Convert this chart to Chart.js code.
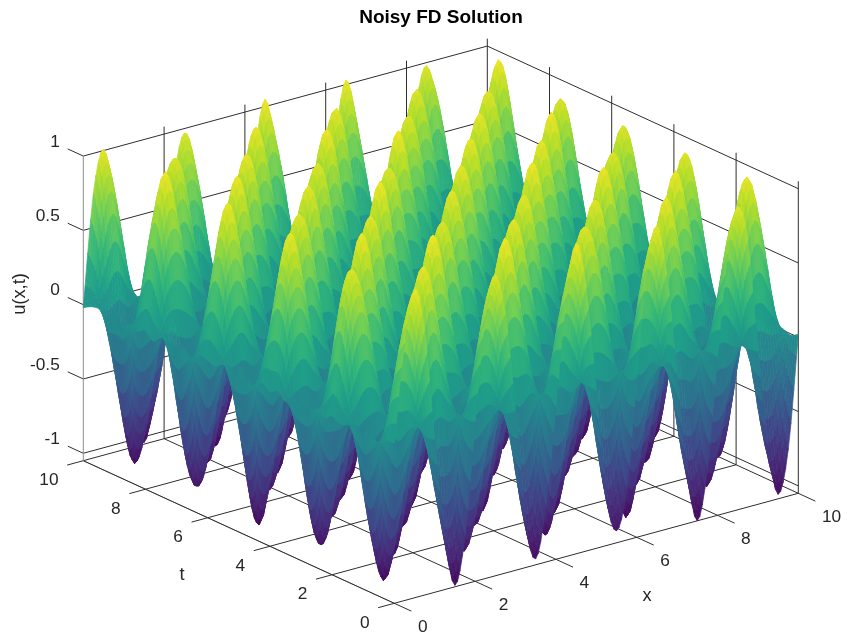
<!DOCTYPE html>
<html>
<head>
<meta charset="utf-8">
<style>
  html, body { margin: 0; padding: 0; background: #fff; }
  #wrap { width: 847px; height: 639px; }
</style>
<script src="https://cdn.jsdelivr.net/npm/chart.js@4"></script>
</head>
<body>
<div id="wrap"><canvas id="myChart" width="847" height="639"></canvas></div>
<script>
// grid of the surface
const xValues = [0,0.25,0.5,0.75,1,1.25,1.5,1.75,2,2.25,2.5,2.75,3,3.25,3.5,3.75,4,4.25,4.5,4.75,5,5.25,5.5,5.75,6,6.25,6.5,6.75,7,7.25,7.5,7.75,8,8.25,8.5,8.75,9,9.25,9.5,9.75,10];
const tValues = [0,0.25,0.5,0.75,1,1.25,1.5,1.75,2,2.25,2.5,2.75,3,3.25,3.5,3.75,4,4.25,4.5,4.75,5,5.25,5.5,5.75,6,6.25,6.5,6.75,7,7.25,7.5,7.75,8,8.25,8.5,8.75,9,9.25,9.5,9.75,10];
const xTicks = [0,2,4,6,8,10];
const tTicks = [0,2,4,6,8,10];
const zTicks = [-1,-0.5,0,0.5,1];
const zTickLabels = ['-1','-0.5','0','0.5','1'];

// u(x,t) in hundredths, one row per t
const uRows = [
[3,68,103,74,-2,-69,-104,-73,2,72,98,70,3,-74,-101,-68,-3,69,104,73,1,-72,-97,-71,2,74,101,67,-3,-70,-105,-72,1,69,99,75,-2,-67,-102,-74,2],
[2,52,74,47,-3,-48,-69,-53,1,48,73,52,-2,-52,-74,-47,3,51,68,49,2,-47,-72,-51,-2,53,70,46,3,-50,-67,-54,2,47,75,50,-3,-53,-70,-48,-1],
[-2,3,-4,2,1,-3,4,-1,2,-3,1,4,-2,2,-4,3,1,-2,3,-3,2,4,-1,-3,2,1,-4,3,-2,2,4,-3,1,-2,3,-1,-3,4,2,-2,1],
[1,-47,-73,-52,3,49,74,46,-2,-53,-68,-48,2,52,71,50,-1,-48,-75,-51,3,46,69,53,-3,-50,-72,-47,1,53,73,48,2,-52,-67,-50,-2,47,75,52,1],
[-2,-69,-103,-73,2,72,101,68,3,-74,-98,-70,-1,69,105,74,-3,-71,-102,-67,2,73,98,72,1,-68,-105,-74,-2,70,103,69,3,-73,-99,-71,1,74,102,67,-2],
[3,-52,-69,-48,-2,51,75,47,1,-46,-73,-53,2,48,67,52,-3,-51,-70,-49,1,53,74,46,2,-48,-68,-52,-1,47,72,53,3,-50,-74,-47,-2,52,69,49,2],
[1,-3,2,4,-2,3,-1,-4,2,3,-2,1,4,-3,-1,2,-4,3,1,-2,4,-1,2,-3,3,-4,1,2,-2,-3,4,1,-2,3,-1,2,-4,-2,3,1,-2],
[-1,47,70,53,2,-51,-74,-47,-3,52,68,48,1,-49,-72,-53,2,46,75,51,-2,-52,-69,-48,3,50,73,47,-1,-53,-70,-51,2,48,67,52,1,-47,-74,-50,3],
[2,74,97,69,-3,-72,-103,-68,1,70,105,73,2,-69,-98,-74,-2,73,101,67,3,-71,-104,-70,-1,68,99,75,2,-73,-101,-69,3,72,104,70,-2,-68,-97,-73,1],
[-2,49,73,52,1,-53,-68,-47,2,51,75,46,-3,-48,-71,-52,1,53,69,50,3,-46,-74,-49,-2,47,72,53,1,-51,-75,-48,3,52,67,49,-1,-50,-73,-53,2],
[2,-2,3,-3,1,4,-4,2,-1,3,-2,-3,4,1,-2,3,2,-4,1,3,-3,-1,4,2,-2,-3,1,4,-1,3,-2,2,-4,1,3,-3,2,-1,4,-2,-1],
[-3,-51,-74,-47,2,52,69,49,1,-48,-72,-53,-2,47,75,51,3,-52,-67,-46,-1,50,73,48,2,-53,-70,-49,1,46,68,52,-3,-49,-75,-51,2,53,71,47,-1],
[1,-73,-98,-68,-2,70,104,73,2,-69,-101,-74,3,72,97,67,-1,-74,-105,-70,2,68,100,75,-3,-72,-97,-69,1,73,104,71,2,-67,-102,-75,-2,69,99,72,3],
[-1,-48,-72,-53,3,47,70,52,-2,-51,-75,-46,1,53,68,49,2,-47,-73,-52,-3,50,71,48,1,-53,-69,-47,3,49,74,51,-1,-46,-70,-53,2,52,68,48,-2],
[-3,1,4,-2,2,-1,-4,3,1,-2,2,-3,-1,4,3,-2,1,-3,2,4,-4,1,-2,3,-1,2,4,-3,1,-2,-4,3,2,-1,-3,4,1,-2,3,-3,2],
[2,53,68,48,-1,-47,-72,-52,2,50,74,47,3,-53,-69,-49,-2,47,71,54,1,-51,-75,-46,2,52,68,49,-3,-48,-73,-52,1,46,75,51,2,-53,-70,-47,-2],
[-1,70,102,74,3,-68,-97,-72,-2,73,99,69,1,-75,-104,-70,2,67,101,72,-3,-73,-98,-68,1,71,105,74,2,-69,-100,-73,-2,74,97,68,3,-70,-103,-72,1],
[3,47,71,53,-2,-52,-73,-49,1,51,68,46,2,-48,-75,-53,-1,49,72,52,3,-47,-69,-51,-2,54,74,48,1,-52,-71,-46,2,50,67,53,-3,-49,-74,-48,2],
[-2,4,-1,3,-3,2,1,-4,3,-2,4,1,-3,-2,2,3,-1,-4,2,1,3,-3,4,-2,1,-1,3,2,-4,-2,1,4,-3,2,-1,3,-2,1,-4,3,1],
[1,-53,-69,-47,2,49,73,52,-3,-46,-70,-52,1,53,75,48,2,-50,-68,-51,-1,47,72,53,3,-49,-74,-46,-2,52,69,50,1,-53,-72,-48,3,47,70,51,-1],
[2,-72,-104,-68,-3,74,98,70,1,-67,-102,-73,2,71,105,68,-2,-74,-99,-70,3,69,101,74,-1,-72,-97,-68,2,73,103,70,1,-69,-105,-74,-3,68,98,73,-2],
[-2,-47,-74,-52,1,53,68,46,3,-51,-72,-48,-1,49,71,53,2,-46,-75,-50,1,52,70,47,-3,-53,-67,-49,2,48,73,52,-1,-51,-74,-47,3,50,68,53,1],
[3,-1,2,-4,1,-2,3,4,-3,1,-2,3,4,-1,-3,2,1,3,-4,-2,2,-3,1,4,-1,3,-2,-4,2,1,-3,4,-1,-2,3,2,-4,1,3,-1,-2],
[-1,51,68,47,3,-49,-73,-53,2,46,75,52,-2,-53,-70,-47,1,50,74,48,2,-52,-67,-46,-3,53,71,49,1,-47,-75,-51,2,52,69,46,-1,-48,-72,-53,3],
[1,69,103,73,-2,-74,-98,-70,3,72,100,67,-1,-68,-105,-73,2,74,97,70,1,-71,-103,-69,-3,67,102,74,2,-72,-99,-68,1,70,105,73,-2,-75,-97,-69,2],
[2,46,72,53,1,-50,-75,-48,-2,53,69,47,3,-51,-71,-52,2,48,74,50,-1,-53,-68,-47,1,49,73,51,3,-46,-72,-53,-2,51,67,48,2,-49,-75,-50,-3],
[-3,2,-1,4,-2,1,3,-3,-1,4,2,-4,1,3,-2,-1,3,2,-3,-4,1,4,-2,1,3,-3,-1,2,4,-2,3,-1,-4,1,2,3,-2,-3,1,4,-1],
[2,-49,-75,-51,-1,46,70,53,1,-53,-68,-47,3,52,73,48,-2,-47,-71,-52,1,53,68,49,2,-50,-74,-46,-1,47,72,53,3,-48,-69,-52,1,51,74,47,-2],
[-1,-74,-97,-70,3,68,104,72,-2,-71,-103,-67,1,73,98,70,2,-69,-100,-74,-1,72,105,68,3,-70,-98,-73,-2,69,102,74,1,-73,-105,-68,2,71,97,70,-3],
[1,-50,-68,-53,-2,48,74,47,3,-46,-73,-51,2,52,69,49,-1,-53,-72,-48,3,47,75,52,-2,-51,-67,-46,1,53,71,50,2,-47,-74,-53,-1,48,70,46,2],
[2,3,-2,-4,1,-3,4,2,-1,3,-4,1,2,-2,-3,4,-1,1,3,-2,4,-3,-1,2,1,-4,3,-2,-3,1,2,4,-2,-1,3,-3,1,4,-2,2,-1],
[-3,48,69,52,2,-53,-72,-46,1,49,74,51,-2,-47,-68,-53,3,52,70,46,-1,-50,-75,-48,2,53,67,47,1,-52,-73,-49,-1,46,71,53,2,-51,-69,-47,1],
[2,72,105,67,-1,-70,-99,-74,3,68,102,73,1,-73,-97,-69,-2,74,104,71,2,-68,-101,-72,-3,70,98,75,1,-74,-103,-67,2,72,100,69,-1,-71,-105,-73,3],
[-1,53,70,47,2,-46,-74,-52,-3,48,73,50,1,-53,-67,-48,2,51,75,46,3,-49,-71,-53,1,47,69,52,-2,-50,-72,-47,3,53,74,49,1,-52,-68,-46,-2],
[1,-4,3,2,-2,4,-1,-3,2,1,-3,4,-1,2,3,-4,-2,1,4,-3,2,-1,-3,3,4,-2,1,-3,2,-1,3,-4,1,2,-2,4,-3,1,-1,3,2],
[-2,-52,-67,-48,1,53,72,47,2,-50,-75,-46,-1,47,69,53,3,-48,-73,-51,1,52,70,46,-2,-47,-74,-53,3,49,68,51,1,-53,-71,-46,-3,50,75,48,2],
[3,-68,-101,-74,2,70,97,73,-1,-72,-104,-69,1,67,103,74,-2,-70,-98,-73,3,75,101,68,1,-69,-105,-71,-2,72,99,67,3,-74,-100,-70,1,69,104,73,-1],
[-2,-47,-70,-53,-1,51,73,48,2,-52,-69,-47,3,46,74,53,-1,-50,-68,-49,2,53,72,47,-3,-46,-75,-52,1,49,70,48,2,-53,-73,-51,-2,47,67,52,1],
[2,-1,4,-3,3,-2,-4,1,2,-3,4,-1,-2,3,1,-4,2,3,-1,-2,4,1,-3,-1,2,3,-4,1,-2,4,-3,2,1,-1,-4,3,2,-3,1,4,-2],
[1,50,75,46,-3,-47,-69,-52,2,53,68,49,-1,-51,-73,-48,3,47,72,53,1,-49,-75,-46,-2,52,70,48,3,-53,-67,-50,1,46,74,52,-1,-48,-71,-53,2],
[-2,73,101,68,2,-70,-104,-73,1,69,97,74,-3,-72,-102,-67,2,71,105,70,-1,-74,-98,-69,3,68,103,73,1,-73,-100,-70,-2,74,98,67,2,-68,-105,-72,3]
];
const colormap = ['#440154','#482878','#3e4989','#31688e','#26828e','#1f9e89','#35b779','#6ece58','#b5de2b','#fde725'];

// projection of the plot box: page position of (0,0,-1.05) and the step per data unit
const origin = [394.3, 603.3];
const stepX = [40.4, -11.0];
const stepT = [-31.1, -14.26];
const stepZ = 148.6;
const zLow = -1.05;
const zHigh = 1.05;
const colorLow = -1.08;
const colorHigh = 1.08;
const titleBottom = 34.2;

function project(x, t, z) {
    return {
        x: origin[0] + x * stepX[0] + t * stepT[0],
        y: origin[1] + x * stepX[1] + t * stepT[1] - (z - zLow) * stepZ
    };
}

const stops = colormap.map(c => [1, 3, 5].map(n => parseInt(c.substr(n, 2), 16)));
function colorFor(u) {
    let f = (u - colorLow) / (colorHigh - colorLow);
    f = Math.max(0, Math.min(0.9999, f)) * (stops.length - 1);
    const n = Math.floor(f), w = f - n;
    const a = stops[n], b = stops[n + 1];
    return 'rgb(' + [0, 1, 2].map(k => Math.round(a[k] + (b[k] - a[k]) * w)).join(',') + ')';
}

// the surface vertices, the chart's scales turn them into pixels
const vertices = [];
tValues.forEach((t, j) => {
    xValues.forEach((x, i) => {
        const u = uRows[j][i] / 100;
        const p = project(x, t, u);
        vertices.push({ x: p.x, y: p.y, u: u });
    });
});

const datasets = [{
    label: 'u(x,t)',
    data: vertices,
    showLine: false,
    pointRadius: 0,
    pointHoverRadius: 0
}];

function addLine(points, color) {
    datasets.push({
        data: points.map(p => project(p[0], p[1], p[2])),
        showLine: true,
        borderColor: color,
        borderWidth: 1,
        pointRadius: 0,
        fill: false,
        tension: 0,
        clip: false
    });
}

const dark = '#2e2e2e';
const grey = '#8c8c8c';
// walls
xTicks.forEach(x => {
    if (x === 0) addLine([[0, 10, zLow], [0, 10, 1]], grey);
    else addLine([[x, 10, zLow], [x, 10, zHigh]], dark);
});
tTicks.forEach(t => {
    if (t !== 10) addLine([[10, t, zLow], [10, t, zHigh]], dark);
});
zTicks.forEach(z => {
    addLine([[0, 10, z], [10, 10, z], [10, 0, z]], dark);
    addLine([[0, 10, z], [0, 10.5, z]], dark);
});
// floor and tick marks
xTicks.forEach(x => {
    addLine([[x, -0.55, zLow], [x, 10, zLow]], dark);
});
tTicks.forEach(t => {
    addLine([[-0.4, t, zLow], [0, t, zLow]], dark);
    addLine([[0, t, zLow], [10, t, zLow]], dark);
});
addLine([[0, 0, zLow], [0, 10, zLow]], grey);

// smooth shading between the grid vertices, like shading interp
function crSpline(a, b, c, d, s) {
    return 0.5 * (2 * b + (c - a) * s + (2 * a - 5 * b + 4 * c - d) * s * s + (3 * b - a - 3 * c + d) * s * s * s);
}
function refine(rows, sub) {
    const along = (line) => {
        const out = [];
        for (let i = 0; i < line.length - 1; i++) {
            const a = line[Math.max(0, i - 1)], b = line[i], c = line[i + 1], d = line[Math.min(line.length - 1, i + 2)];
            for (let k = 0; k < sub; k++) out.push(crSpline(a, b, c, d, k / sub));
        }
        out.push(line[line.length - 1]);
        return out;
    };
    const wide = rows.map(along);
    const cols = wide[0].map((_, i) => along(wide.map(r => r[i])));
    return cols; // cols[fineX][fineT]
}

const surfacePlugin = {
    id: 'surface',
    afterDatasetsDraw(chart) {
        const ctx = chart.ctx;
        const pts = chart.getDatasetMeta(0).data;
        const nx = xValues.length;
        const sub = 4;
        const px = [], py = [], pu = [];
        tValues.forEach((t, j) => {
            px.push(xValues.map((x, i) => pts[j * nx + i].x));
            py.push(xValues.map((x, i) => pts[j * nx + i].y));
            pu.push(xValues.map((x, i) => vertices[j * nx + i].u));
        });
        const fx = refine(px, sub), fy = refine(py, sub), fu = refine(pu, sub);
        ctx.save();
        ctx.lineWidth = 0.7;
        ctx.lineJoin = 'round';
        // far corner first, the near corner is x=0, t=0
        for (let j = fx[0].length - 2; j >= 0; j--) {
            for (let i = fx.length - 2; i >= 0; i--) {
                const col = colorFor((fu[i][j] + fu[i + 1][j] + fu[i][j + 1] + fu[i + 1][j + 1]) / 4);
                ctx.beginPath();
                ctx.moveTo(fx[i][j], fy[i][j]);
                ctx.lineTo(fx[i + 1][j], fy[i + 1][j]);
                ctx.lineTo(fx[i + 1][j + 1], fy[i + 1][j + 1]);
                ctx.lineTo(fx[i][j + 1], fy[i][j + 1]);
                ctx.closePath();
                ctx.fillStyle = col;
                ctx.strokeStyle = col;
                ctx.fill();
                ctx.stroke();
            }
        }
        ctx.restore();

        // tick labels and axis names
        ctx.save();
        ctx.fillStyle = '#262626';
        ctx.font = '17.3px "Liberation Sans"';
        ctx.textBaseline = 'middle';
        ctx.textAlign = 'left';
        xTicks.forEach(x => {
            const p = project(x, -1.0, zLow);
            ctx.fillText(String(x), p.x - 7.5, p.y + 10);
        });
        ctx.textAlign = 'right';
        tTicks.forEach(t => {
            const p = project(-0.75, t, zLow);
            ctx.fillText(String(t), p.x + 5.5, p.y + 11.5);
        });
        zTicks.forEach((z, n) => {
            const p = project(0, 10.5, z);
            ctx.fillText(zTickLabels[n], p.x - 8, p.y - 7);
        });
        ctx.textAlign = 'center';
        ctx.font = '18.3px "Liberation Sans"';
        ctx.fillText('x', 647, 596);
        ctx.fillText('t', 182, 575);
        ctx.translate(20, 294);
        ctx.rotate(-Math.PI / 2);
        ctx.fillText('u(x,t)', 0, 0);
        ctx.restore();
    }
};

new Chart(document.getElementById('myChart').getContext('2d'), {
    type: 'scatter',
    data: { datasets: datasets },
    plugins: [surfacePlugin],
    options: {
        responsive: false,
        animation: false,
        events: [],
        layout: { padding: { left: 35 } },
        plugins: {
            legend: { display: false },
            tooltip: { enabled: false },
            title: {
                display: true,
                text: 'Noisy FD Solution',
                color: '#000',
                font: { family: '"Liberation Sans"', size: 19, weight: 'bold' },
                padding: { top: 6, bottom: 5.4 }
            }
        },
        scales: {
            x: { type: 'linear', display: false, min: 35, max: 847 },
            y: { type: 'linear', display: false, min: titleBottom, max: 639, reverse: true }
        }
    }
});
</script>
</body>
</html>
